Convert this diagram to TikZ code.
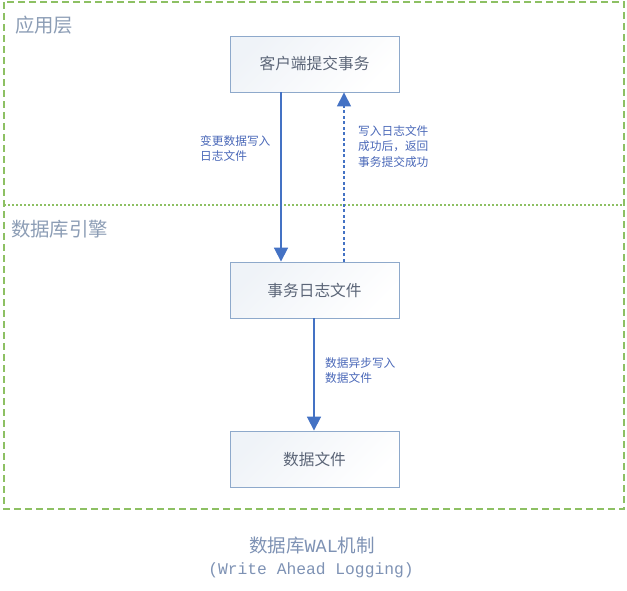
\documentclass[tikz,border=0pt]{standalone}
\usepackage{fontspec}
\setmainfont{Noto Sans CJK SC}
\newfontfamily\cjk{Noto Sans CJK SC}
\newfontfamily\monof{Liberation Mono}
\usetikzlibrary{arrows.meta}
\definecolor{grn}{HTML}{8DC063}
\definecolor{arr}{HTML}{4472C4}
\definecolor{bxb}{HTML}{8EA9CB}
\definecolor{bxt}{HTML}{5B6577}
\definecolor{lyr}{HTML}{8C9DB5}
\definecolor{lbl}{HTML}{4A68B8}
\definecolor{cap}{HTML}{7E92B4}
\tikzset{
  stepbox/.style={draw=bxb, line width=0.9pt, left color=bxb!14, right color=white, shading angle=45, minimum width=169pt, minimum height=56pt, inner sep=0pt, text=bxt, font=\cjk\fontsize{15.7}{18}\selectfont},
  flow/.style={draw=arr, line width=1.8pt, -{Triangle[length=14pt,width=14pt]}},
  lab/.style={text=lbl, font=\cjk\fontsize{11.7}{15.8}\selectfont, align=left, inner sep=0pt, anchor=north west},
  layer/.style={text=lyr, font=\cjk\fontsize{19.4}{22}\selectfont, inner sep=0pt, anchor=west}
}
\begin{document}
\begin{tikzpicture}[x=1pt,y=-1pt]
\useasboundingbox (0,0) rectangle (627,590);
\draw[grn, line width=1.3pt, dash pattern=on 7pt off 4pt] (4,2) rectangle (624,509);
\draw[grn, line width=1.3pt, dash pattern=on 2pt off 2pt] (4,205) -- (624,205);
\node[layer] (l1) at (15,25) {应用层};
\node[layer] (l2) at (11,229) {数据库引擎};
\node[stepbox] (b1) at (314.5,64) {客户端提交事务};
\node[stepbox] (b2) at (314.5,290) {事务日志文件};
\node[stepbox] (b3) at (314.5,459) {数据文件};
\draw[flow] (b1.south -| 281,0) -- (b2.north -| 281,0);
\draw[flow, line width=1.5pt, dash pattern=on 3pt off 2.5pt] (b2.north -| 344,0) -- (b1.south -| 344,0);
\draw[flow] (b2.south -| 314,0) -- (b3.north -| 314,0);
\node[lab] (t1) at (200,135) {变更数据写入\\日志文件};
\node[lab] (t2) at (358,125) {写入日志文件\\成功后，返回\\事务提交成功};
\node[lab] (t3) at (325,357) {数据异步写入\\数据文件};
\node[text=cap, font=\cjk\fontsize{18.5}{20}\selectfont, inner sep=0pt] (c1) at (312,545) {数据库{\monof WAL}机制};
\node[text=cap, font=\monof\fontsize{16.3}{18}\selectfont, inner sep=0pt] (c2) at (311,570) {(Write Ahead Logging)};
\end{tikzpicture}
\end{document}
